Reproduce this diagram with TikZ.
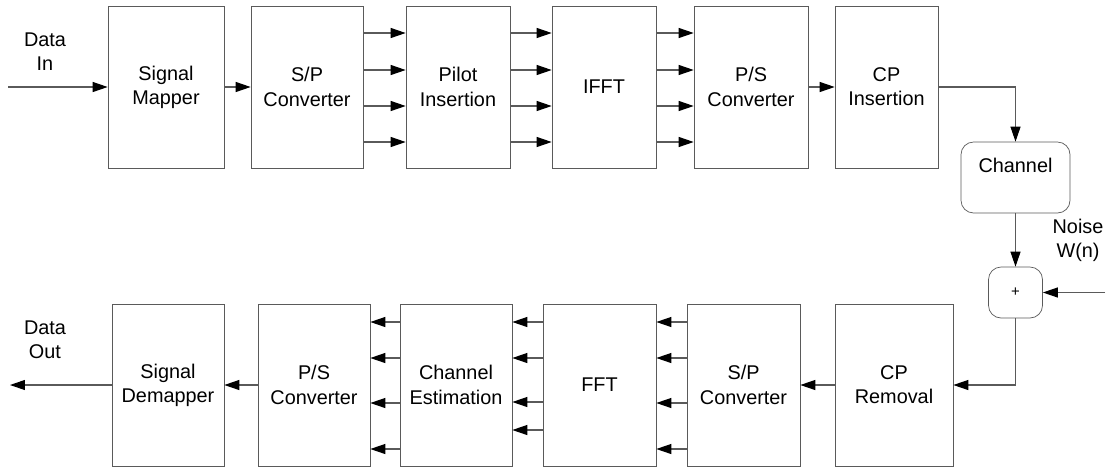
\documentclass[tikz,border=0pt]{standalone}
\usepackage{fontspec}
\setmainfont{Liberation Sans}
\usetikzlibrary{arrows.meta}
\definecolor{line-grey}{HTML}{5A5A5A}

\begin{document}
\begin{tikzpicture}[x=0.02cm, y=-0.02cm,
        every node/.style={font=\fontsize{11.3}{13.8}\selectfont},
        blk/.style={draw=line-grey, fill=white, minimum height=3.24cm, align=center, inner sep=0pt},
        rblk/.style={draw=line-grey, fill=white, rounded corners=0.25cm, align=center, inner sep=0pt},
        sig/.style={draw=line-grey, line width=0.6pt, -{Triangle[length=0.3cm, width=0.2cm, color=black]}}]
      \useasboundingbox (0,0) rectangle (1108,467);
      \node[blk, minimum width=2.32cm] (SM) at (166,87) {Signal\\Mapper};
      \node[blk, minimum width=2.24cm] (SPC) at (307,87) {S/P\\Converter};
      \node[blk, minimum width=2.08cm] (PI) at (458,87) {Pilot\\Insertion};
      \node[blk, minimum width=2.08cm] (IFFT) at (604,87) {IFFT};
      \node[blk, minimum width=2.28cm] (PSC) at (751,87) {P/S\\Converter};
      \node[blk, minimum width=2.06cm] (CPI) at (886.5,87) {CP\\Insertion};
      \node[rblk, minimum width=2.18cm, minimum height=1.42cm] (CH) at (1015.5,177.5) {Channel\\ \mbox{}};
      \node[rblk, minimum width=1.08cm, minimum height=1.02cm, font=\fontsize{8.5}{10}\selectfont] (ADD) at (1015.5,292.5) {+};
      \node[align=center] (NS) at (1078,240) {Noise\\W(n)};
      \node[blk, minimum width=2.36cm] (CPR) at (894,385) {CP\\Removal};
      \node[blk, minimum width=2.26cm] (SPC2) at (743.5,385) {S/P\\Converter};
      \node[blk, minimum width=2.26cm] (FFT) at (599.5,385) {FFT};
      \node[blk, minimum width=2.24cm] (CE) at (456,385) {Channel\\Estimation};
      \node[blk, minimum width=2.24cm] (PSC2) at (314,385) {P/S\\Converter};
      \node[blk, minimum width=2.24cm] (SD) at (168,385) {Signal\\Demapper};
      \node[align=center] (DI) at (45,52) {Data\\In};
      \node[align=center] (DO) at (45,340) {Data\\Out};
      \coordinate (IN) at (8,87);
      \coordinate (OUT) at (10,385);
      \coordinate (NW) at (1105,292.5);
      \draw[sig] (IN) -- (SM);
      \draw[sig] (SM) -- (SPC);
      \foreach \y in {33,70,106,142} {
        \draw[sig] (SPC.east |- 0,\y) -- (PI.west |- 0,\y);
        \draw[sig] (PI.east |- 0,\y) -- (IFFT.west |- 0,\y);
        \draw[sig] (IFFT.east |- 0,\y) -- (PSC.west |- 0,\y);
      }
      \draw[sig] (PSC) -- (CPI);
      \draw[sig] (CPI.east) -| (CH.north);
      \draw[sig] (CH) -- (ADD);
      \draw[sig] (NW) -- (ADD);
      \draw[sig] (ADD.south) |- (CPR.east);
      \draw[sig] (CPR) -- (SPC2);
      \foreach \y in {322,358,403,449} {
        \draw[sig] (SPC2.west |- 0,\y) -- (FFT.east |- 0,\y);
        \draw[sig] (CE.west |- 0,\y) -- (PSC2.east |- 0,\y);
      }
      \foreach \y in {322,358,402,430}
        \draw[sig] (FFT.west |- 0,\y) -- (CE.east |- 0,\y);
      \draw[sig] (PSC2) -- (SD);
      \draw[sig] (SD) -- (OUT);
    \end{tikzpicture}
\end{document}
